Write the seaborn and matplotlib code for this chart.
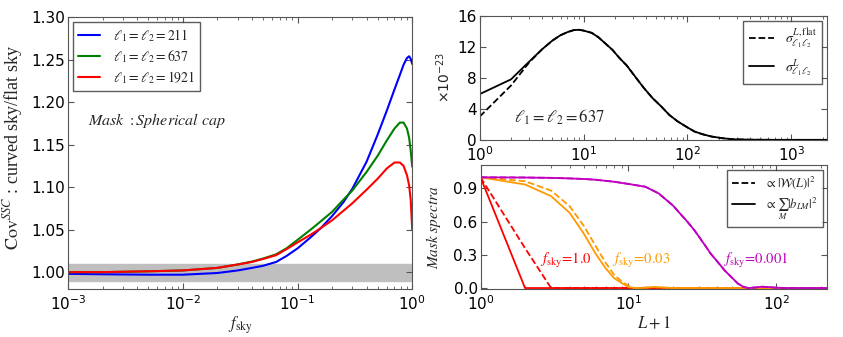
import numpy as np
import pandas as pd
import matplotlib
matplotlib.use("Agg")
import matplotlib.pyplot as plt
import seaborn as sns

sns.set_style("ticks")
plt.rcParams['font.family'] = ['DejaVu Sans']
plt.rcParams['mathtext.fontset'] = 'dejavusans'
plt.rcParams['xtick.direction'] = 'in'
plt.rcParams['ytick.direction'] = 'in'
plt.rcParams['xtick.top'] = True
plt.rcParams['ytick.right'] = True
plt.rcParams['axes.edgecolor'] = '#555555'
plt.rcParams['xtick.color'] = '#555555'
plt.rcParams['ytick.color'] = '#555555'
plt.rcParams['xtick.labelcolor'] = 'black'
plt.rcParams['ytick.labelcolor'] = 'black'
plt.rcParams['axes.linewidth'] = 0.8

# ---- data: left panel (curved / flat sky ratio vs fsky) ----
fsky = [0.001, 0.002, 0.005, 0.01, 0.02, 0.03, 0.04, 0.05, 0.065, 0.08, 0.1,
        0.13, 0.16, 0.2, 0.25, 0.3, 0.4, 0.5, 0.6, 0.7, 0.78, 0.84, 0.9, 0.94,
        0.97, 1.0]
ratio_211 = [0.998, 0.9975, 0.997, 0.997, 0.999, 1.002, 1.005, 1.0075, 1.012,
             1.019, 1.028, 1.041, 1.052, 1.066, 1.082, 1.098, 1.130, 1.162,
             1.190, 1.215, 1.232, 1.244, 1.252, 1.254, 1.251, 1.245]
ratio_637 = [1.000, 1.000, 1.001, 1.002, 1.005, 1.009, 1.0125, 1.016, 1.021,
             1.028, 1.038, 1.050, 1.060, 1.071, 1.085, 1.096, 1.118, 1.137,
             1.155, 1.169, 1.176, 1.176, 1.169, 1.158, 1.143, 1.124]
ratio_1921 = [1.000, 1.000, 1.001, 1.002, 1.005, 1.009, 1.012, 1.0155, 1.020,
              1.027, 1.035, 1.044, 1.052, 1.061, 1.072, 1.081, 1.097, 1.110,
              1.122, 1.129, 1.129, 1.125, 1.114, 1.102, 1.085, 1.050]
ell_labels = [r'$\ell_1=\ell_2=211$', r'$\ell_1=\ell_2=637$', r'$\ell_1=\ell_2=1921$']
ell_colors = ['#0000ff', '#008000', '#ff0000']

# ---- data: top right (sigma^L, units of 1e-23) ----
Lp1 = [1, 2, 3, 4, 5, 6, 7, 8, 9, 10, 12, 14, 16, 19, 22, 26, 32, 38, 46, 56,
       67, 80, 100, 117, 140, 170, 220, 280, 400, 700, 1200, 2200]
sigma_curved = [5.9, 7.8, 10.1, 11.7, 12.8, 13.5, 13.9, 14.15, 14.2, 14.1, 13.8,
                13.2, 12.5, 11.6, 10.6, 9.6, 8.0, 6.7, 5.4, 4.3, 3.2, 2.4, 1.6,
                1.07, 0.72, 0.43, 0.2, 0.07, 0.02, 0.0, 0.0, 0.0]
sigma_flat = [3.0, 7.0, 10.0, 11.7, 12.8, 13.5, 13.9, 14.15, 14.2, 14.1, 13.8,
              13.2, 12.5, 11.6, 10.6, 9.6, 8.0, 6.7, 5.4, 4.3, 3.2, 2.4, 1.6,
              1.07, 0.72, 0.43, 0.2, 0.07, 0.02, 0.0, 0.0, 0.0]

# ---- data: bottom right (mask spectra) ----
L_low = [1, 2, 3, 4, 5, 6, 7, 8, 9, 10, 11, 12, 13, 15, 17, 20, 30, 60, 100, 220]
red_solid = [1.0, 0.0, 0.0, 0.0, 0.0, 0.0, 0.0, 0.0, 0.0, 0.0, 0.0, 0.0, 0.0,
             0.0, 0.0, 0.0, 0.0, 0.0, 0.0, 0.0]
red_dashed = [1.0, 0.36, 0.0, 0.0, 0.0, 0.0, 0.0, 0.0, 0.0, 0.0, 0.0, 0.0, 0.0,
              0.0, 0.0, 0.0, 0.0, 0.0, 0.0, 0.0]
orange_solid = [1.0, 0.935, 0.83, 0.68, 0.49, 0.31, 0.18, 0.09, 0.045, 0.01, 0.0,
                0.0, 0.004, 0.009, 0.005, 0.0, 0.0, 0.0, 0.0, 0.0]
orange_dashed = [1.0, 0.965, 0.88, 0.74, 0.56, 0.38, 0.23, 0.12, 0.06, 0.02, 0.0,
                 0.0, 0.004, 0.008, 0.005, 0.0, 0.0, 0.0, 0.0, 0.0]
L_mag = [1, 2, 3, 4, 5, 6, 8, 10, 13, 16, 20, 25, 28, 32, 36, 40, 45, 50, 55,
         60, 65, 72, 80, 90, 100, 120, 220]
magenta = [1.0, 0.998, 0.995, 0.99, 0.985, 0.978, 0.96, 0.94, 0.915, 0.855, 0.745,
           0.60, 0.52, 0.41, 0.31, 0.238, 0.155, 0.095, 0.04, 0.01, 0.0, 0.005,
           0.012, 0.008, 0.003, 0.0, 0.0]
fsky_labels = [r'$f_{\rm sky}\!=\!1.0$', r'$f_{\rm sky}\!=\!0.03$', r'$f_{\rm sky}\!=\!0.001$']
fsky_colors = ['#ff0000', '#ff9900', '#c000c0']

fig = plt.figure(figsize=(8.43, 3.37), dpi=100)
ax1 = fig.add_axes([0.081, 0.142, 0.408, 0.807])
ax2 = fig.add_axes([0.569, 0.585, 0.412, 0.368])
ax3 = fig.add_axes([0.570, 0.142, 0.411, 0.368])

# ------ left panel ------
ax1.axhspan(0.99, 1.01, color='#bfbfbf', zorder=0)
for ys, lab, col in zip([ratio_211, ratio_637, ratio_1921], ell_labels, ell_colors):
    sns.lineplot(x=fsky, y=ys, color=col, lw=1.5, label=lab, ax=ax1)
ax1.set_xscale('log')
ax1.set_xlim(1e-3, 1)
ax1.set_ylim(0.98, 1.30)
ax1.set_yticks(np.arange(1.0, 1.31, 0.05))
ax1.set_yticklabels(['%.2f' % v for v in np.arange(1.0, 1.31, 0.05)])
ax1.set_xlabel(r'$f_{\rm sky}$', fontsize=12, math_fontfamily='stix', labelpad=1)
ax1.set_ylabel(r'$\mathrm{Cov}^{SSC}$ : curved sky/flat sky', fontsize=13,
               family='Liberation Serif', math_fontfamily='stix')
ax1.yaxis.set_label_coords(-0.125, 0.52)
leg = ax1.legend(loc='upper left', fancybox=False, handlelength=1.6,
                 handletextpad=0.9, borderaxespad=0.35, labelspacing=0.3,
                 borderpad=0.35, prop={'size': 10})
for t in leg.get_texts():
    t.set_math_fontfamily('stix')
leg.get_frame().set_edgecolor('#333333')
ax1.text(0.058, 0.62, r'$Mask\ :Spherical\ cap$', transform=ax1.transAxes,
         fontsize=11.5, va='center', math_fontfamily='stix')

# ------ top right ------
sns.lineplot(x=Lp1, y=sigma_flat, color='black', lw=1.3, ls='--',
             label=r'$\sigma^{L,{\rm flat}}_{\ell_1\ell_2}$', ax=ax2)
sns.lineplot(x=Lp1, y=sigma_curved, color='black', lw=1.3,
             label=r'$\sigma^{L}_{\ell_1\ell_2}$', ax=ax2)
ax2.set_xscale('log')
ax2.set_xlim(1, 2200)
ax2.set_ylim(0, 16)
ax2.set_yticks([0, 4, 8, 12, 16])
ax2.set_ylabel(r'$\times10^{-23}$', fontsize=10)
ax2.yaxis.set_label_coords(-0.078, 0.5)
ax2.text(0.098, 0.18, r'$\ell_1=\ell_2=637$', transform=ax2.transAxes,
         fontsize=12, va='center', math_fontfamily='stix')
leg2 = ax2.legend(loc='upper right', fancybox=False, handlelength=1.8,
                  borderaxespad=0.35, prop={'size': 10})
for t in leg2.get_texts():
    t.set_math_fontfamily('stix')
leg2.get_frame().set_edgecolor('#333333')

# ------ bottom right ------
for sol, das, col in [(red_solid, red_dashed, fsky_colors[0]),
                      (orange_solid, orange_dashed, fsky_colors[1])]:
    sns.lineplot(x=L_low, y=das, color=col, lw=1.3, ls='--', ax=ax3)
    sns.lineplot(x=L_low, y=sol, color=col, lw=1.3, ax=ax3)
sns.lineplot(x=L_mag, y=magenta, color=fsky_colors[2], lw=1.3, ls='--', ax=ax3)
sns.lineplot(x=L_mag, y=magenta, color=fsky_colors[2], lw=1.3, ax=ax3)
ax3.plot([], [], color='black', ls='--', lw=1.3, label=r'$\propto|\mathcal{W}(L)|^2$')
ax3.plot([], [], color='black', lw=1.3, label=r'$\propto\sum_M|b_{LM}|^2$')
ax3.set_xscale('log')
ax3.set_xlim(1, 220)
ax3.set_ylim(-0.01, 1.11)
ax3.set_yticks([0.0, 0.3, 0.6, 0.9])
ax3.set_yticklabels(['0.0', '0.3', '0.6', '0.9'])
ax3.set_xlabel(r'$L+1$', fontsize=12, math_fontfamily='stix', labelpad=1)
ax3.set_ylabel(r'$Mask\ spectra$', fontsize=11, math_fontfamily='stix')
ax3.yaxis.set_label_coords(-0.107, 0.5)
for lab, col, xp in zip(fsky_labels, fsky_colors, [0.173, 0.38, 0.70]):
    ax3.text(xp, 0.23, lab, color=col, transform=ax3.transAxes, fontsize=10.5,
             va='center', math_fontfamily='stix')
leg3 = ax3.legend(loc='upper right', fancybox=False, handlelength=1.8,
                  borderaxespad=0.35, labelspacing=0.3, prop={'size': 9})
for t in leg3.get_texts():
    t.set_math_fontfamily('stix')
leg3.get_frame().set_edgecolor('#333333')

for ax in (ax1, ax2, ax3):
    ax.tick_params(which='major', length=4, labelsize=11, pad=2)
    ax.tick_params(axis='x', which='major', pad=4)
    ax.tick_params(which='minor', length=2)

fig.savefig('out.png', dpi=100)
